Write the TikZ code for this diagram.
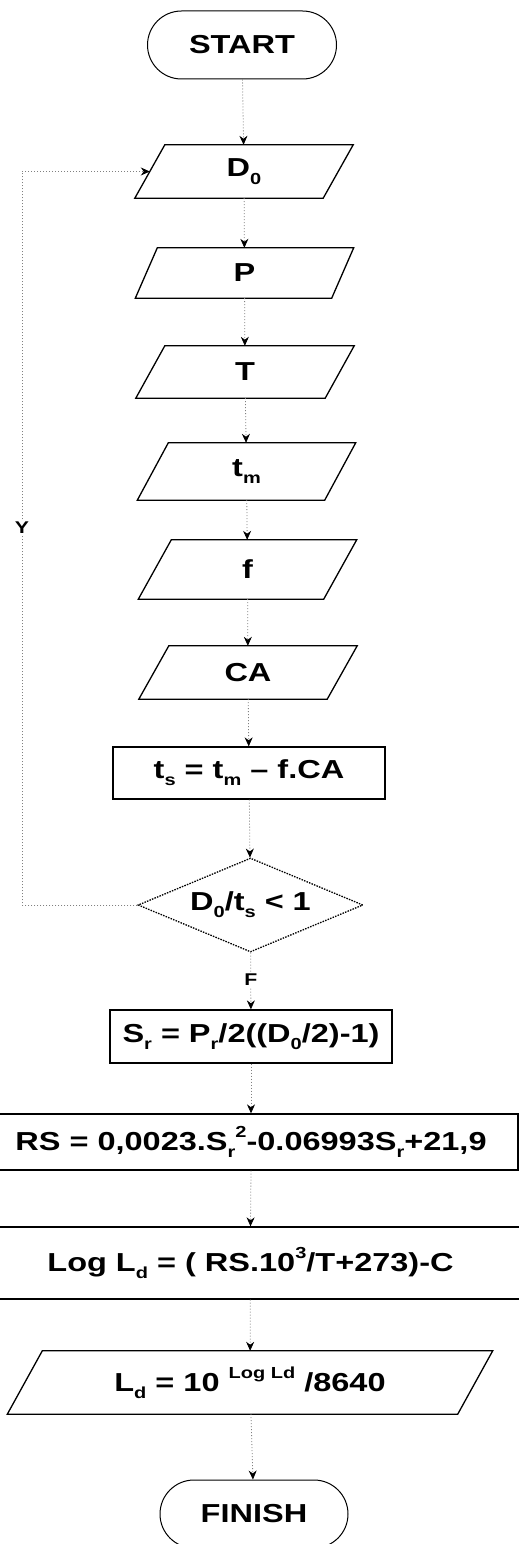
\documentclass[tikz,border=0pt]{standalone}
\usepackage{fontspec}
\setmainfont{Liberation Sans}[FakeStretch=1.25]
\usetikzlibrary{shapes.geometric,shapes.misc,arrows.meta}
\newcommand{\lo}[1]{\raisebox{-0.28em}{\fontsize{16}{16}\selectfont #1}}
\newcommand{\hi}[1]{\raisebox{0.5em}{\fontsize{16}{16}\selectfont #1}}
\begin{document}
\begin{tikzpicture}[x=1pt,y=-1pt,
  txt/.style={font=\bfseries\fontsize{26}{29}\selectfont, inner sep=0pt},
  term/.style={txt, rounded rectangle, draw, line width=1pt, minimum width=189pt, minimum height=68pt},
  io/.style={txt, rectangle, minimum width=218pt},
  proc/.style={txt, rectangle, draw, line width=1.3pt},
  dec/.style={txt, diamond, draw, line width=1.3pt, dash pattern=on 1.5pt off 1.2pt, minimum width=225pt, minimum height=94pt, aspect=2.4},
  conn/.style={gray, line width=0.8pt, dash pattern=on 1pt off 2pt, -{Stealth[length=9pt,width=8pt,color=black]}},
  lab/.style={font=\bfseries\fontsize{17}{19}\selectfont, text=black, inner sep=1.5pt, fill=white},
  pline/.style={line width=1.3pt, line join=miter}
]
\useasboundingbox (0,0) rectangle (519,1544);
\clip (0,0) rectangle (519,1544);

\node[term] (start) at (242,45) {START};
\node[io, minimum height=53pt] (d0) at (244,171.5) {D\lo{0}};
\node[io, minimum height=50pt] (p) at (244.5,273) {P};
\node[io, minimum height=52pt] (t) at (245,372) {T};
\node[io, minimum height=57pt] (tm) at (246.5,471.5) {t\lo{m}};
\node[io, minimum height=59pt] (f) at (247.5,569.5) {f};
\node[io, minimum height=53pt] (ca) at (248,672.5) {CA};
\node[proc, minimum width=272pt, minimum height=52pt] (ts) at (249,773) {t\lo{s} = t\lo{m} – f.CA};
\node[dec] (dec) at (250.5,905) {D\lo{0}/t\lo{s} < 1};
\node[proc, minimum width=282pt, minimum height=53pt] (sr) at (251,1036.5) {S\lo{r} = P\lo{r}/2((D\lo{0}/2)-1)};
\node[proc, minimum width=534pt, minimum height=56pt] (rs) at (251,1142) {RS = 0,0023.S\lo{r}\hi{2}-0.06993S\lo{r}+21,9};
\node[proc, minimum width=560pt, minimum height=72pt] (log) at (250.5,1263) {Log L\lo{d} = ( RS.10\hi{3}/T+273)-C};
\node[io, minimum width=485pt, minimum height=63pt] (ld) at (250,1382.5) {L\lo{d} = 10 \hi{Log Ld} /8640};
\node[term, minimum width=188pt] (fin) at (254,1514) {FINISH};

\foreach \n/\s in {d0/30,p/22,t/29,tm/31,f/33,ca/30,ld/35}
  \draw[pline] ([xshift=\s pt]\n.north west) -- (\n.north east) -- ([xshift=-\s pt]\n.south east) -- (\n.south west) -- cycle;

\draw[conn] (start) -- (d0);
\draw[conn] (d0) -- (p);
\draw[conn] (p) -- (t);
\draw[conn] (t) -- (tm);
\draw[conn] (tm) -- (f);
\draw[conn] (f) -- (ca);
\draw[conn] (ca) -- (ts);
\draw[conn] (ts) -- (dec);
\draw[conn] (dec) -- node[lab, pos=0.47] {F} (sr);
\draw[conn] (sr) -- (sr.south |- rs.north);
\draw[conn] (rs.south -| sr.south) -- (log.north);
\draw[conn] (log) -- (ld);
\draw[conn] (ld) -- (fin);

\coordinate (lc1) at (22,905);
\coordinate (lc2) at (22,171.5);
\draw[conn] (dec.west) -- (lc1) -- node[lab, pos=0.514] {Y} (lc2) -- ([xshift=15pt]d0.west);
\end{tikzpicture}
\end{document}
